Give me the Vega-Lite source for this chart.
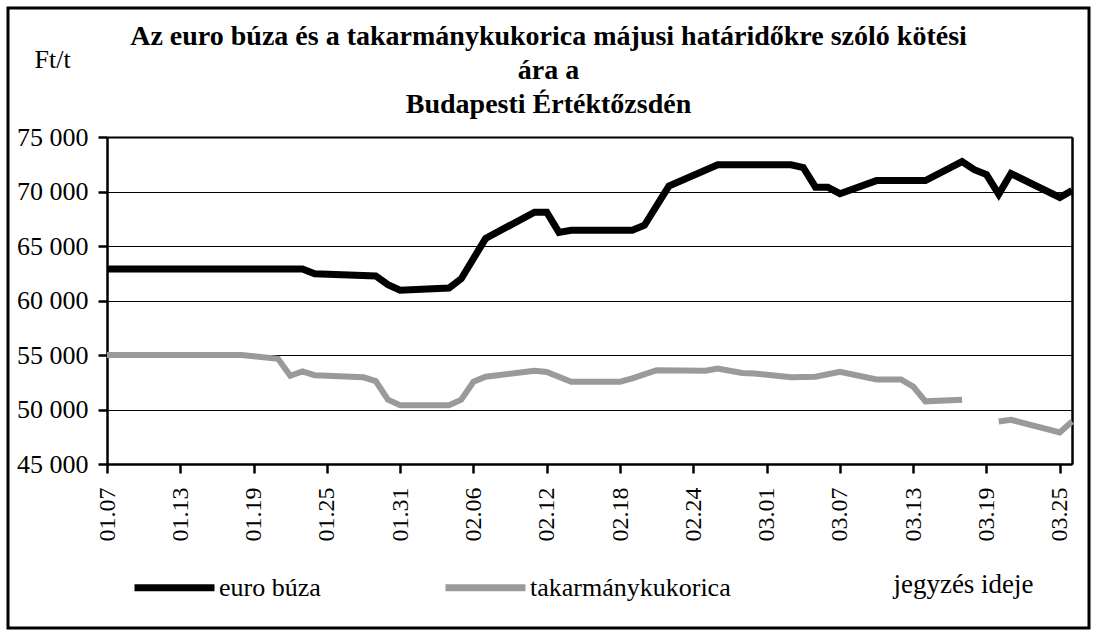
{
  "$schema": "https://vega.github.io/schema/vega-lite/v6.json",
  "width": 1081,
  "height": 620,
  "autosize": {"type": "none"},
  "padding": {"left": 8, "top": 8, "right": 8, "bottom": 7},
  "background": "white",
  "title": {
    "text": ["Az euro búza és a takarmánykukorica májusi határidőkre szóló kötési", "ára a", "Budapesti Értéktőzsdén"],
    "font": "Liberation Serif",
    "fontSize": 28,
    "fontWeight": "bold",
    "color": "black",
    "anchor": "middle",
    "frame": "group",
    "baseline": "alphabetic",
    "lineHeight": 34,
    "offset": 0,
    "dy": 133
  },
  "data": {
    "values": [
      {"date": "2004-01-07", "series": "euro búza", "value": 62900, "seg": 1},
      {"date": "2004-01-23", "series": "euro búza", "value": 62900, "seg": 1},
      {"date": "2004-01-24", "series": "euro búza", "value": 62450, "seg": 1},
      {"date": "2004-01-29", "series": "euro búza", "value": 62250, "seg": 1},
      {"date": "2004-01-30", "series": "euro búza", "value": 61450, "seg": 1},
      {"date": "2004-01-31", "series": "euro búza", "value": 60950, "seg": 1},
      {"date": "2004-02-04", "series": "euro búza", "value": 61150, "seg": 1},
      {"date": "2004-02-05", "series": "euro búza", "value": 62000, "seg": 1},
      {"date": "2004-02-07", "series": "euro búza", "value": 65700, "seg": 1},
      {"date": "2004-02-11", "series": "euro búza", "value": 68100, "seg": 1},
      {"date": "2004-02-12", "series": "euro búza", "value": 68100, "seg": 1},
      {"date": "2004-02-13", "series": "euro búza", "value": 66250, "seg": 1},
      {"date": "2004-02-14", "series": "euro búza", "value": 66450, "seg": 1},
      {"date": "2004-02-19", "series": "euro búza", "value": 66450, "seg": 1},
      {"date": "2004-02-20", "series": "euro búza", "value": 66900, "seg": 1},
      {"date": "2004-02-22", "series": "euro búza", "value": 70500, "seg": 1},
      {"date": "2004-02-26", "series": "euro búza", "value": 72450, "seg": 1},
      {"date": "2004-03-03", "series": "euro búza", "value": 72450, "seg": 1},
      {"date": "2004-03-04", "series": "euro búza", "value": 72200, "seg": 1},
      {"date": "2004-03-05", "series": "euro búza", "value": 70400, "seg": 1},
      {"date": "2004-03-06", "series": "euro búza", "value": 70400, "seg": 1},
      {"date": "2004-03-07", "series": "euro búza", "value": 69800, "seg": 1},
      {"date": "2004-03-10", "series": "euro búza", "value": 71000, "seg": 1},
      {"date": "2004-03-14", "series": "euro búza", "value": 71000, "seg": 1},
      {"date": "2004-03-17", "series": "euro búza", "value": 72750, "seg": 1},
      {"date": "2004-03-18", "series": "euro búza", "value": 72000, "seg": 1},
      {"date": "2004-03-19", "series": "euro búza", "value": 71550, "seg": 1},
      {"date": "2004-03-20", "series": "euro búza", "value": 69750, "seg": 1},
      {"date": "2004-03-21", "series": "euro búza", "value": 71650, "seg": 1},
      {"date": "2004-03-25", "series": "euro búza", "value": 69450, "seg": 1},
      {"date": "2004-03-26", "series": "euro búza", "value": 70100, "seg": 1},
      {"date": "2004-01-07", "series": "takarmánykukorica", "value": 55000, "seg": 1},
      {"date": "2004-01-18", "series": "takarmánykukorica", "value": 55000, "seg": 1},
      {"date": "2004-01-21", "series": "takarmánykukorica", "value": 54650, "seg": 1},
      {"date": "2004-01-22", "series": "takarmánykukorica", "value": 53100, "seg": 1},
      {"date": "2004-01-23", "series": "takarmánykukorica", "value": 53500, "seg": 1},
      {"date": "2004-01-24", "series": "takarmánykukorica", "value": 53150, "seg": 1},
      {"date": "2004-01-28", "series": "takarmánykukorica", "value": 52950, "seg": 1},
      {"date": "2004-01-29", "series": "takarmánykukorica", "value": 52600, "seg": 1},
      {"date": "2004-01-30", "series": "takarmánykukorica", "value": 50900, "seg": 1},
      {"date": "2004-01-31", "series": "takarmánykukorica", "value": 50400, "seg": 1},
      {"date": "2004-02-04", "series": "takarmánykukorica", "value": 50400, "seg": 1},
      {"date": "2004-02-05", "series": "takarmánykukorica", "value": 50900, "seg": 1},
      {"date": "2004-02-06", "series": "takarmánykukorica", "value": 52550, "seg": 1},
      {"date": "2004-02-07", "series": "takarmánykukorica", "value": 53000, "seg": 1},
      {"date": "2004-02-11", "series": "takarmánykukorica", "value": 53550, "seg": 1},
      {"date": "2004-02-12", "series": "takarmánykukorica", "value": 53450, "seg": 1},
      {"date": "2004-02-14", "series": "takarmánykukorica", "value": 52550, "seg": 1},
      {"date": "2004-02-18", "series": "takarmánykukorica", "value": 52550, "seg": 1},
      {"date": "2004-02-19", "series": "takarmánykukorica", "value": 52850, "seg": 1},
      {"date": "2004-02-21", "series": "takarmánykukorica", "value": 53600, "seg": 1},
      {"date": "2004-02-25", "series": "takarmánykukorica", "value": 53550, "seg": 1},
      {"date": "2004-02-26", "series": "takarmánykukorica", "value": 53750, "seg": 1},
      {"date": "2004-02-28", "series": "takarmánykukorica", "value": 53350, "seg": 1},
      {"date": "2004-02-29", "series": "takarmánykukorica", "value": 53300, "seg": 1},
      {"date": "2004-03-03", "series": "takarmánykukorica", "value": 52950, "seg": 1},
      {"date": "2004-03-05", "series": "takarmánykukorica", "value": 53000, "seg": 1},
      {"date": "2004-03-07", "series": "takarmánykukorica", "value": 53450, "seg": 1},
      {"date": "2004-03-10", "series": "takarmánykukorica", "value": 52750, "seg": 1},
      {"date": "2004-03-12", "series": "takarmánykukorica", "value": 52750, "seg": 1},
      {"date": "2004-03-13", "series": "takarmánykukorica", "value": 52100, "seg": 1},
      {"date": "2004-03-14", "series": "takarmánykukorica", "value": 50750, "seg": 1},
      {"date": "2004-03-17", "series": "takarmánykukorica", "value": 50900, "seg": 1},
      {"date": "2004-03-20", "series": "takarmánykukorica", "value": 48900, "seg": 2},
      {"date": "2004-03-21", "series": "takarmánykukorica", "value": 49050, "seg": 2},
      {"date": "2004-03-25", "series": "takarmánykukorica", "value": 47900, "seg": 2},
      {"date": "2004-03-26", "series": "takarmánykukorica", "value": 48900, "seg": 2}
    ]
  },
  "layer": [
    {
      "transform": [{"filter": "datum.series === 'takarmánykukorica'"}],
      "mark": {"type": "line", "strokeWidth": 6, "strokeJoin": "miter"},
      "encoding": {
        "x": {
          "field": "date", "type": "temporal",
          "scale": {"type": "utc", "domain": [{"year": 2004, "month": 1, "date": 7, "utc": true}, {"year": 2004, "month": 3, "date": 26, "utc": true}], "range": [99, 1064]},
          "axis": {
            "orient": "bottom", "offset": -164,
            "values": [
              {"year": 2004, "month": 1, "date": 7, "utc": true},
              {"year": 2004, "month": 1, "date": 13, "utc": true},
              {"year": 2004, "month": 1, "date": 19, "utc": true},
              {"year": 2004, "month": 1, "date": 25, "utc": true},
              {"year": 2004, "month": 1, "date": 31, "utc": true},
              {"year": 2004, "month": 2, "date": 6, "utc": true},
              {"year": 2004, "month": 2, "date": 12, "utc": true},
              {"year": 2004, "month": 2, "date": 18, "utc": true},
              {"year": 2004, "month": 2, "date": 24, "utc": true},
              {"year": 2004, "month": 3, "date": 1, "utc": true},
              {"year": 2004, "month": 3, "date": 7, "utc": true},
              {"year": 2004, "month": 3, "date": 13, "utc": true},
              {"year": 2004, "month": 3, "date": 19, "utc": true},
              {"year": 2004, "month": 3, "date": 25, "utc": true}
            ],
            "format": "%m.%d",
            "labelAngle": -90,
            "labelFontSize": 24,
            "labelPadding": 14,
            "tickSize": 9,
            "tickWidth": 2.5,
            "domainWidth": 2.5,
            "grid": false,
            "title": "jegyzés ideje",
            "titleFontSize": 27,
            "titleFontWeight": "normal",
            "titleX": 955,
            "titleY": 128,
            "titleAlign": "center",
            "titleBaseline": "alphabetic"
          }
        },
        "y": {
          "field": "value", "type": "quantitative",
          "scale": {"domain": [45000, 75000], "range": [456, 129], "nice": false, "zero": false},
          "axis": {
            "orient": "left", "offset": -99,
            "values": [45000, 50000, 55000, 60000, 65000, 70000, 75000],
            "labelExpr": "replace(format(datum.value, ',d'), ',', ' ')",
            "labelFontSize": 26,
            "labelPadding": 10,
            "tickSize": 9,
            "tickWidth": 2.5,
            "domainWidth": 2.5,
            "grid": true,
            "gridColor": "black",
            "gridWidth": 1,
            "title": "Ft/t",
            "titleFontSize": 26,
            "titleFontWeight": "normal",
            "titleAngle": 0,
            "titleX": -73,
            "titleY": 59,
            "titleAlign": "left",
            "titleBaseline": "alphabetic"
          }
        },
        "color": {
          "field": "series", "type": "nominal",
          "scale": {"domain": ["euro búza", "takarmánykukorica"], "range": ["#000000", "#9a9a9a"]},
          "legend": {
            "orient": "none", "legendX": 123, "legendY": 536,
            "direction": "horizontal",
            "title": null,
            "symbolType": "stroke",
            "symbolSize": 6400,
            "symbolStrokeWidth": 7,
            "labelFontSize": 26,
            "labelOffset": 1,
            "labelLimit": 400,
            "columnPadding": 110,
            "padding": 0
          }
        },
        "detail": {"field": "seg", "type": "nominal"}
      }
    },
    {
      "transform": [{"filter": "datum.series === 'euro búza'"}],
      "mark": {"type": "line", "strokeWidth": 7, "strokeJoin": "miter"},
      "encoding": {
        "x": {
          "field": "date", "type": "temporal",
          "axis": {"orient": "top", "offset": -129, "labels": false, "ticks": false, "grid": false, "domainWidth": 2, "title": null}
        },
        "y": {
          "field": "value", "type": "quantitative",
          "axis": {"orient": "right", "offset": -17, "labels": false, "ticks": false, "grid": false, "domainWidth": 2.5, "title": null}
        },
        "color": {"field": "series", "type": "nominal"},
        "detail": {"field": "seg", "type": "nominal"}
      }
    }
  ],
  "config": {
    "font": "Liberation Serif",
    "view": {"stroke": "black", "strokeWidth": 3},
    "axis": {
      "labelColor": "black",
      "titleColor": "black",
      "domainColor": "black",
      "tickColor": "black",
      "labelFont": "Liberation Serif",
      "titleFont": "Liberation Serif"
    },
    "legend": {"labelFont": "Liberation Serif", "labelColor": "black"}
  }
}
